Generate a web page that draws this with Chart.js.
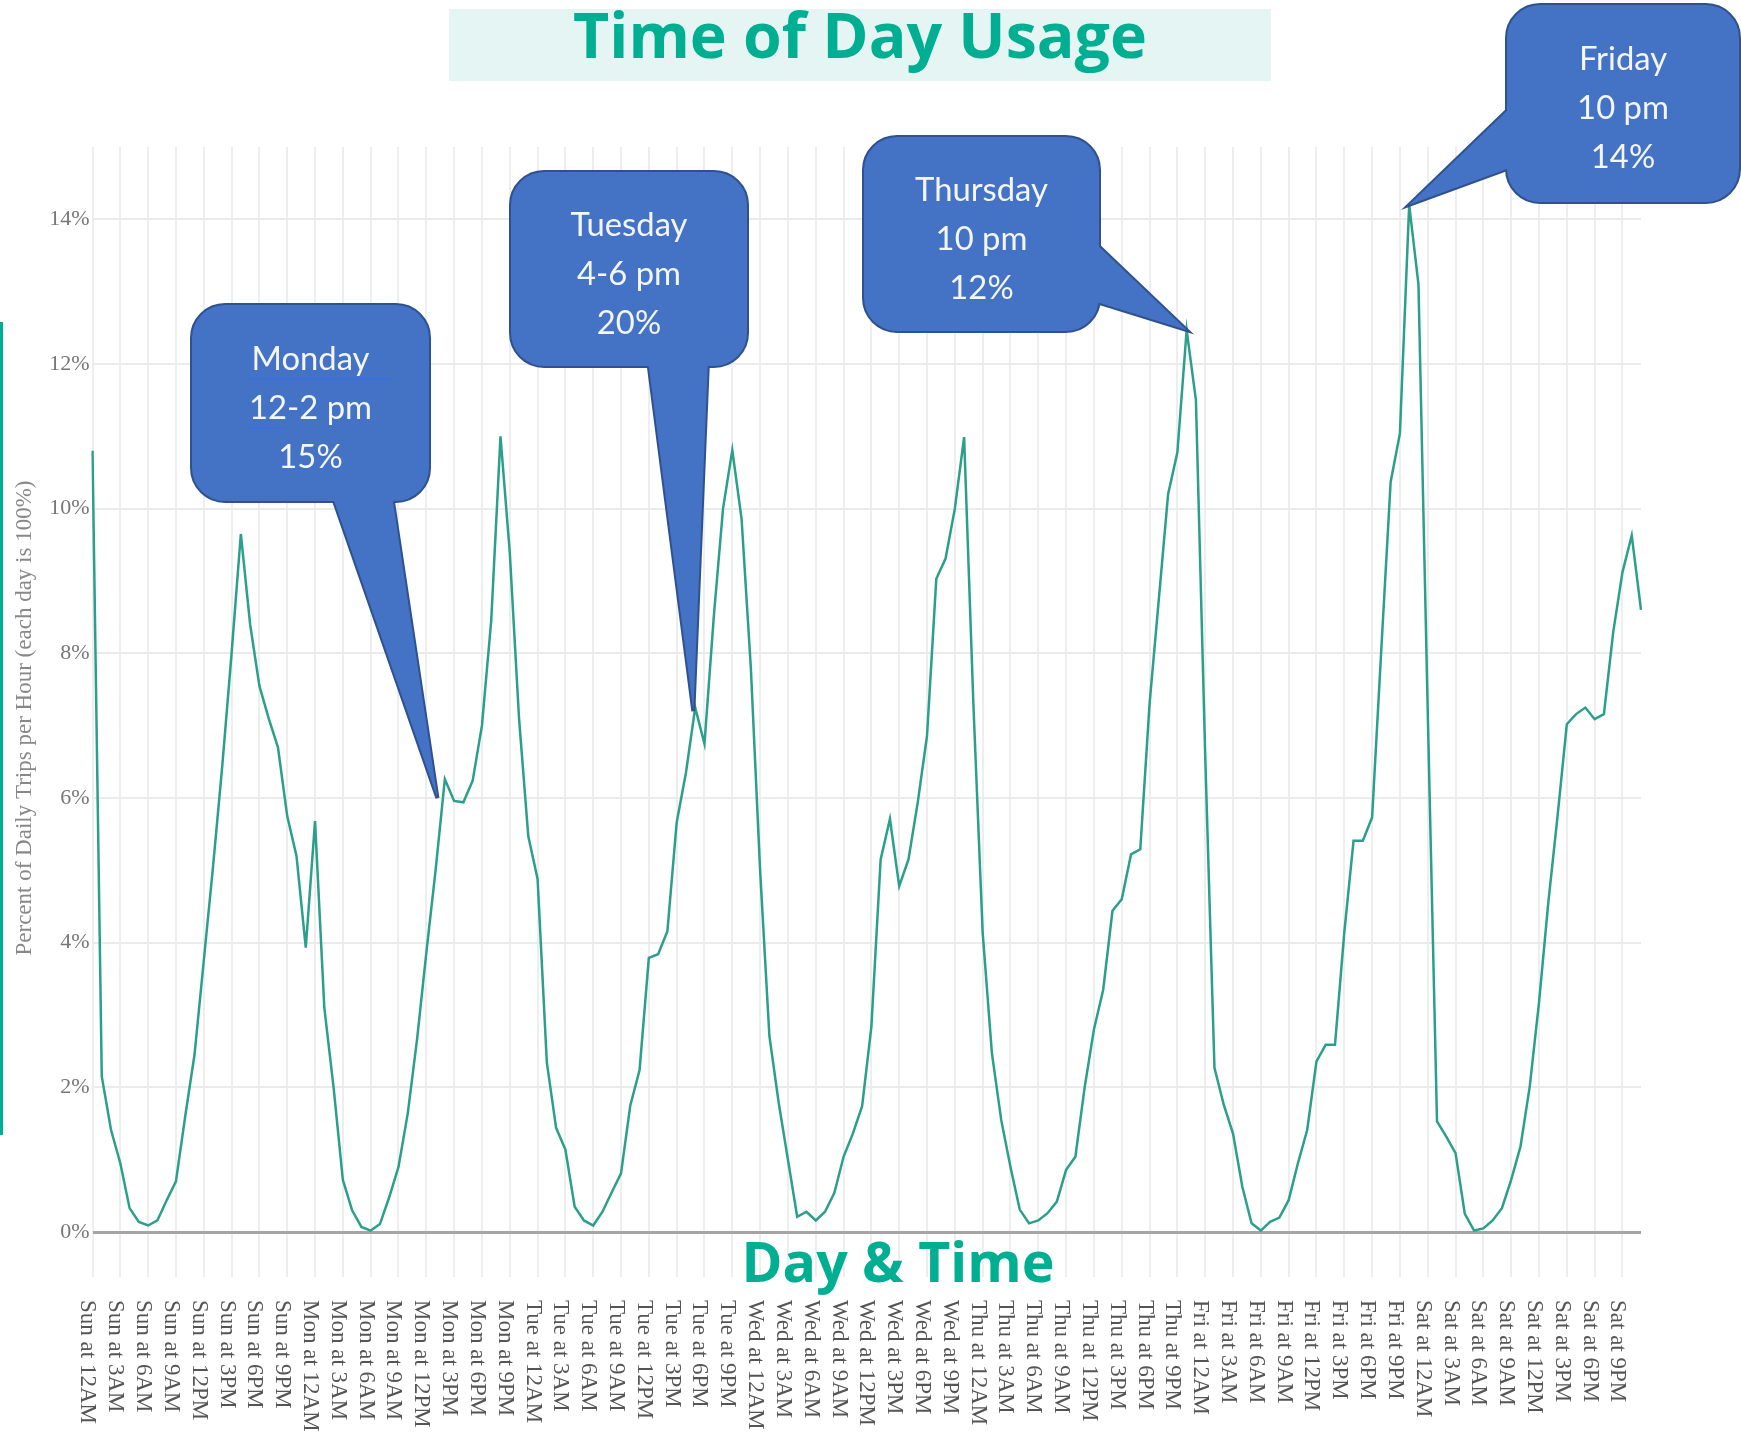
<!DOCTYPE html>
<html>
<head>
<meta charset="utf-8">
<script src="https://cdn.jsdelivr.net/npm/chart.js@4.4.0/dist/chart.umd.min.js"></script>
<style>
html,body{margin:0;padding:0;background:#fff;overflow:hidden}
#wrap{width:1741px;height:1432px;position:relative}
canvas{display:block}
</style>
</head>
<body>
<div id="wrap"><canvas id="c" width="1741" height="1432"></canvas></div>
<script>
// ---------- data ----------
const days = ['Sun','Mon','Tue','Wed','Thu','Fri','Sat'];
const hours = ['12AM','1AM','2AM','3AM','4AM','5AM','6AM','7AM','8AM','9AM','10AM','11AM',
               '12PM','1PM','2PM','3PM','4PM','5PM','6PM','7PM','8PM','9PM','10PM','11PM'];
const categories = [];
days.forEach(d => hours.forEach(h => categories.push(d + ' at ' + h)));

const sunday    = [10.8, 2.15, 1.41, 0.95, 0.33, 0.14, 0.09, 0.16, 0.44, 0.7, 1.6, 2.45, 3.75, 5.05, 6.45, 8.0, 9.65, 8.4, 7.55, 7.1, 6.7, 5.75, 5.2, 3.93];
const monday    = [5.68, 3.1, 2.0, 0.72, 0.3, 0.07, 0.02, 0.11, 0.48, 0.9, 1.64, 2.66, 3.86, 5.0, 6.26, 5.96, 5.94, 6.24, 7.0, 8.45, 11.0, 9.4, 7.1, 5.47];
const tuesday   = [4.88, 2.34, 1.44, 1.14, 0.35, 0.16, 0.09, 0.28, 0.55, 0.81, 1.75, 2.24, 3.79, 3.84, 4.16, 5.66, 6.35, 7.25, 6.75, 8.5, 10.0, 10.81, 9.86, 7.8];
const wednesday = [5.0, 2.71, 1.79, 1.0, 0.21, 0.28, 0.16, 0.28, 0.54, 1.04, 1.36, 1.74, 2.84, 5.15, 5.71, 4.78, 5.15, 5.94, 6.86, 9.03, 9.31, 10.0, 10.99, 7.3];
const thursday  = [4.14, 2.47, 1.55, 0.9, 0.31, 0.12, 0.16, 0.26, 0.42, 0.86, 1.04, 2.0, 2.8, 3.35, 4.44, 4.6, 5.22, 5.29, 7.3, 8.75, 10.2, 10.78, 12.47, 11.5];
const friday    = [6.6, 2.27, 1.76, 1.36, 0.63, 0.12, 0.02, 0.14, 0.2, 0.44, 0.95, 1.41, 2.36, 2.59, 2.59, 4.14, 5.41, 5.41, 5.73, 8.07, 10.37, 11.04, 14.2, 13.1];
const saturday  = [7.2, 1.53, 1.32, 1.09, 0.25, 0.02, 0.05, 0.16, 0.33, 0.72, 1.18, 2.01, 3.17, 4.55, 5.75, 7.02, 7.16, 7.25, 7.09, 7.16, 8.29, 9.12, 9.63, 8.6];
const values = [].concat(sunday, monday, tuesday, wednesday, thursday, friday, saturday);

const yTicks = [0, 2, 4, 6, 8, 10, 12, 14];
const labelEvery = 3;

const titleText = 'Time of Day Usage';
const xTitleText = 'Day & Time';
const yTitleText = 'Percent of Daily Trips per Hour (each day is 100%)';

// callouts: text lines, anchor (category index, value)
const callouts = [
  {lines:['Monday','12-2 pm','15%'],   anchor:[37.2, 6.0]},
  {lines:['Tuesday','4-6 pm','20%'],   anchor:[64.8, 7.2]},
  {lines:['Thursday','10 pm','12%'],   anchor:[118, 12.47]},
  {lines:['Friday','10 pm','14%'],     anchor:[142, 14.2]}
];

// ---------- styling / layout (not data) ----------
const TEAL = '#00ae92';
const LINE = '#2b9f8b';
const BOXES = [
  {x:192, y:305, w:237, h:196, base:[[332,495],[392,495]]},
  {x:511, y:172, w:236, h:194, base:[[648,360],[708,360]]},
  {x:864, y:137, w:235, h:194, base:[[1090,238],[1090,300]]},
  {x:1507,y:5,   w:232, h:197, base:[[1515,103],[1515,166]]}
];

function rr(ctx,x,y,w,h,r){
  ctx.beginPath();
  ctx.moveTo(x+r,y);
  ctx.arcTo(x+w,y,x+w,y+h,r);
  ctx.arcTo(x+w,y+h,x,y+h,r);
  ctx.arcTo(x,y+h,x,y,r);
  ctx.arcTo(x,y,x+w,y,r);
  ctx.closePath();
}
function fitSize(ctx, text, weight, family, target){
  ctx.font = weight + ' 100px ' + family;
  return 100 * target / ctx.measureText(text).width;
}

const decor = {
  id:'decor',
  beforeDraw(chart){
    const ctx = chart.ctx;
    ctx.save(); ctx.fillStyle='#fff'; ctx.fillRect(0,0,chart.width,chart.height); ctx.restore();
  },
  afterDraw(chart){
    const ctx = chart.ctx;
    const xs = chart.scales.x, ys = chart.scales.y;
    ctx.save();

    // title band
    ctx.fillStyle = '#e5f5f3';
    ctx.fillRect(449, 9, 822, 72);
    let s = fitSize(ctx, titleText, 'bold', '"Open Sans"', 574);
    ctx.font = 'bold ' + s + 'px "Open Sans"';
    ctx.fillStyle = TEAL; ctx.textAlign='center'; ctx.textBaseline='alphabetic';
    ctx.fillText(titleText, 860, 58);

    // left teal bar
    ctx.fillStyle = TEAL;
    ctx.fillRect(0, 322, 3, 813);

    // y title
    ctx.save();
    ctx.translate(25, 718); ctx.rotate(-Math.PI/2);
    ctx.font = '23px "Liberation Serif"'; ctx.fillStyle='#888';
    ctx.textAlign='center'; ctx.textBaseline='middle';
    ctx.fillText(yTitleText, 0, 0);
    ctx.restore();

    // x tick labels (rotated clockwise)
    ctx.font = '23px "Liberation Serif"'; ctx.fillStyle = '#555';
    xs.ticks.forEach(t => {
      const x = xs.getPixelForValue(t.value) - 5;
      ctx.save();
      ctx.translate(x, 1300); ctx.rotate(Math.PI/2);
      ctx.textAlign='left'; ctx.textBaseline='middle';
      ctx.fillText(categories[t.value], 0, 0);
      ctx.restore();
    });

    // x title
    s = fitSize(ctx, xTitleText, 'bold', '"Open Sans"', 313);
    ctx.font = 'bold ' + s + 'px "Open Sans"';
    ctx.fillStyle = TEAL; ctx.textAlign='center'; ctx.textBaseline='alphabetic';
    ctx.fillText(xTitleText, 898, 1282);

    // callouts
    const fs = fitSize(ctx, '12-2 pm', 'normal', 'Lato', 123);
    callouts.forEach((c, i) => {
      const b = BOXES[i];
      const tip = [xs.getPixelForValue(c.anchor[0]), ys.getPixelForValue(c.anchor[1])];
      const tri = () => { ctx.beginPath(); ctx.moveTo(b.base[0][0], b.base[0][1]); ctx.lineTo(tip[0], tip[1]); ctx.lineTo(b.base[1][0], b.base[1][1]); ctx.closePath(); };
      ctx.lineWidth = 4; ctx.strokeStyle = '#2f528f'; ctx.fillStyle = '#4472c4'; ctx.lineJoin='miter';
      rr(ctx, b.x, b.y, b.w, b.h, 33); ctx.stroke();
      tri(); ctx.stroke();
      rr(ctx, b.x, b.y, b.w, b.h, 33); ctx.fill();
      tri(); ctx.fill();
      ctx.font = fs + 'px Lato'; ctx.fillStyle = '#f3f6fc';
      ctx.textAlign='center'; ctx.textBaseline='middle';
      const cx = b.x + b.w/2, cy = b.y + b.h/2 + 5;
      c.lines.forEach((ln, k) => ctx.fillText(ln, cx, cy + (k-1)*49));
      if (i === 0) {
        ctx.strokeStyle = '#3b6fe0'; ctx.lineWidth = 2;
        ctx.beginPath(); ctx.moveTo(249, 379); ctx.lineTo(390, 379); ctx.stroke();
        ctx.beginPath(); ctx.moveTo(249, 428); ctx.lineTo(284, 428); ctx.stroke();
      }
    });

    ctx.restore();
  }
};

new Chart(document.getElementById('c').getContext('2d'), {
  type: 'line',
  data: {
    labels: categories,
    datasets: [{
      data: values,
      borderColor: LINE,
      borderWidth: 2.5,
      pointRadius: 0,
      tension: 0,
      fill: false
    }]
  },
  options: {
    responsive: false,
    animation: false,
    devicePixelRatio: 1,
    layout: {padding: {left: 0, right: 100, top: 147, bottom: 0}},
    plugins: {legend: {display: false}, tooltip: {enabled: false}, title: {display: false}},
    scales: {
      x: {
        type: 'category',
        offset: false,
        border: {display: false},
        grid: {color: '#eeeeee', lineWidth: 2, drawTicks: true, tickLength: 45, tickColor: '#eeeeee'},
        ticks: {display: false, autoSkip: false},
        afterBuildTicks: s => { s.ticks = s.ticks.filter(t => t.value % labelEvery === 0); },
        afterFit: s => { s.height = 200; }
      },
      y: {
        min: 0, max: 15,
        border: {display: false},
        afterBuildTicks: s => { s.ticks = yTicks.map(v => ({value: v})); },
        grid: {
          color: c => (c.tick && c.tick.value === 0) ? '#a5a5a5' : '#ebebeb',
          lineWidth: c => (c.tick && c.tick.value === 0) ? 3 : 2,
          drawTicks: false
        },
        ticks: {
          callback: v => v + '%',
          font: {family: '"Liberation Serif"', size: 22},
          color: '#777',
          padding: 3
        },
        afterFit: s => { s.width = 92.5; }
      }
    }
  },
  plugins: [decor]
});
</script>
</body>
</html>
